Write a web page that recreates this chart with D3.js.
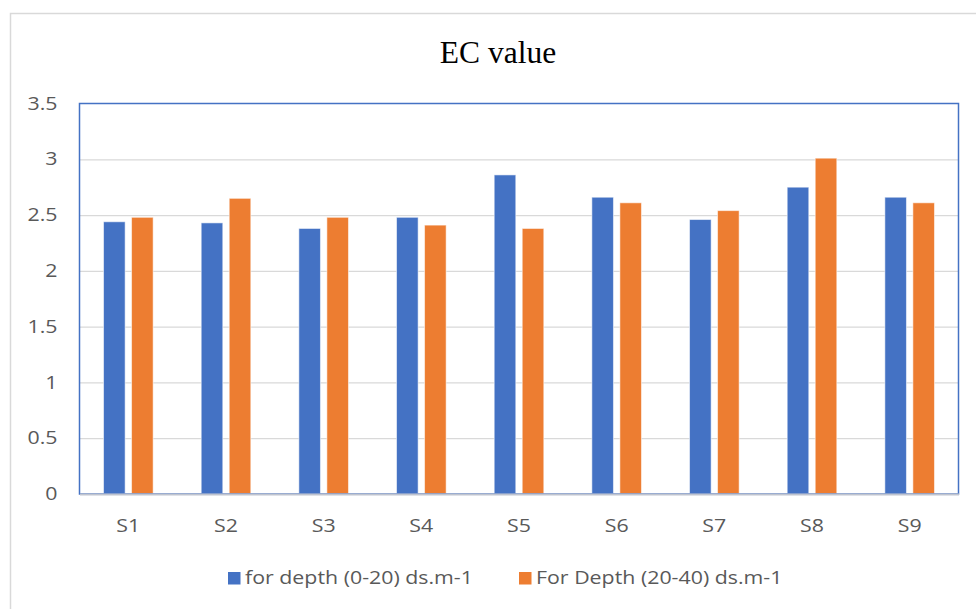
<!DOCTYPE html>
<html>
<head>
<meta charset="utf-8">
<script src="https://cdn.jsdelivr.net/npm/d3@7"></script>
<style>
  html, body { margin: 0; padding: 0; background: #fff; }
  svg { display: block; }
</style>
</head>
<body>
<svg id="chart" width="976" height="609"></svg>
<script>
const categories = ["S1", "S2", "S3", "S4", "S5", "S6", "S7", "S8", "S9"];
const seriesNames = ["for depth (0-20) ds.m-1", "For Depth (20-40) ds.m-1"];
const depth0_20 = [2.44, 2.43, 2.38, 2.48, 2.86, 2.66, 2.46, 2.75, 2.66];
const depth20_40 = [2.48, 2.65, 2.48, 2.41, 2.38, 2.61, 2.54, 3.01, 2.61];
const yTicks = [0, 0.5, 1, 1.5, 2, 2.5, 3, 3.5];
const colors = ["#4472C4", "#ED7D31"];
const title = "EC value";

const svg = d3.select("#chart");
const W = 976, H = 609;
const plot = { left: 79.5, top: 103.5, right: 958.5, bottom: 494 };
const SX = 1.22; // horizontal stretch of the reference's sans text
const sansFont = "'Open Sans', 'Noto Sans', sans-serif";

// outer chart border
svg.append("rect")
  .attr("x", 10.5).attr("y", 13.5)
  .attr("width", W + 20).attr("height", H + 20)
  .attr("fill", "#fff").attr("stroke", "#d9d9d9").attr("stroke-width", 1.5);

// title
svg.append("text")
  .attr("x", 498).attr("y", 63)
  .attr("text-anchor", "middle")
  .attr("font-family", "'Liberation Serif', 'Times New Roman', serif")
  .attr("font-size", 31.5)
  .attr("fill", "#000")
  .text(title);

const y = d3.scaleLinear().domain([0, 3.5]).range([plot.bottom, plot.top]);
const x0 = d3.scaleBand().domain(categories).range([plot.left, plot.right])
  .paddingInner(0.492).paddingOuter(0.246);
const x1 = d3.scaleBand().domain([0, 1]).range([0, x0.bandwidth()])
  .paddingInner(0.229).paddingOuter(0);

// gridlines
const grid = svg.append("g")
  .attr("transform", `translate(${plot.left},0)`)
  .call(d3.axisLeft(y).tickValues(yTicks.filter(t => t > 0 && t < 3.5)).tickSize(-(plot.right - plot.left)).tickFormat(""));
grid.select(".domain").remove();
grid.selectAll(".tick line").attr("stroke", "#d9d9d9").attr("stroke-width", 1.3);

// y axis labels
const yPad = 22;
const yAxis = svg.append("g")
  .attr("transform", `translate(${plot.left},0)`)
  .call(d3.axisLeft(y).tickValues(yTicks).tickSize(0).tickPadding(yPad).tickFormat(d3.format("")));
yAxis.select(".domain").remove();
yAxis.selectAll("text")
  .attr("font-family", sansFont)
  .attr("font-size", 17.5)
  .attr("fill", "#595959")
  .attr("x", -yPad / SX)
  .attr("transform", `scale(${SX},1)`);

// bars
const data = categories.map((c, i) => ({ cat: c, vals: [depth0_20[i], depth20_40[i]] }));
const groups = svg.append("g").selectAll("g").data(data).join("g")
  .attr("transform", d => `translate(${x0(d.cat)},0)`);
groups.selectAll("rect").data(d => d.vals.map((v, k) => ({ v, k }))).join("rect")
  .attr("x", d => x1(d.k))
  .attr("y", d => y(d.v))
  .attr("width", x1.bandwidth())
  .attr("height", d => y(0) - y(d.v))
  .attr("fill", d => colors[d.k])
  .attr("stroke", "rgba(255,255,255,0.55)")
  .attr("stroke-width", 1);

// plot border (blue) and bottom axis (gray)
svg.append("rect")
  .attr("x", plot.left).attr("y", plot.top)
  .attr("width", plot.right - plot.left).attr("height", plot.bottom - plot.top)
  .attr("fill", "none").attr("stroke", "#4472C4").attr("stroke-width", 1.5);

const xAxis = svg.append("g")
  .attr("transform", `translate(0,${plot.bottom})`)
  .call(d3.axisBottom(x0).tickSize(0).tickPadding(26));
xAxis.select(".domain").attr("stroke", "#bfc4cf").attr("stroke-width", 1.8);
xAxis.selectAll("text")
  .attr("font-family", sansFont)
  .attr("font-size", 17.5)
  .attr("fill", "#595959")
  .attr("transform", `scale(${SX},1)`);

// legend
const legendItems = [
  { name: seriesNames[0], color: colors[0], x: 228 },
  { name: seriesNames[1], color: colors[1], x: 519 }
];
const legend = svg.append("g");
legendItems.forEach(it => {
  legend.append("rect")
    .attr("x", it.x).attr("y", 572)
    .attr("width", 12.5).attr("height", 12.5)
    .attr("fill", it.color);
  legend.append("text")
    .attr("transform", `translate(${it.x + 17},578) scale(${SX},1)`)
    .attr("dy", "0.35em")
    .attr("font-family", sansFont)
    .attr("font-size", 17.5)
    .attr("fill", "#595959")
    .text(it.name);
});
</script>
</body>
</html>
